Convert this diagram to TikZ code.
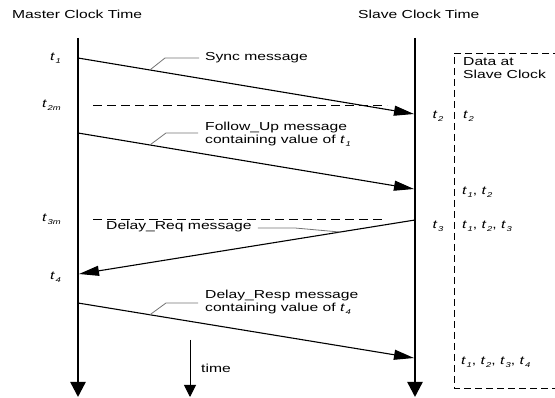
\documentclass[tikz,border=0pt]{standalone}
\usepackage{fontspec}
\setmainfont{Liberation Sans}[FakeStretch=1.35]
\usetikzlibrary{arrows.meta,calc}

% italic time stamp with a small italic index
\newcommand\tv[1]{\textit{t}\kern0.6pt\raisebox{-0.45ex}{\fontsize{7}{7}\selectfont\textit{#1}}}

\begin{document}
\begin{tikzpicture}[x=1pt,y=-1pt,
  txt/.style={font=\fontsize{11.6}{13}\selectfont, inner sep=0pt, align=left},
  timeline/.style={line width=2.4pt, -{Triangle[length=15pt,width=15pt]}},
  msg/.style={line width=1.1pt, -{Triangle[length=20pt,width=10pt]}},
  leader/.style={black!55, line width=0.8pt},
  dashline/.style={dash pattern=on 9pt off 5pt, line width=0.9pt},
  boxline/.style={dash pattern=on 7pt off 4pt, line width=0.9pt},
  tickarrow/.style={line width=1pt, -{Triangle[length=12pt,width=12pt]}}]
\useasboundingbox (0,0) rectangle (555,398);
\clip (0,0) rectangle (555,398);

% column titles
\node[txt, anchor=west] (mtitle) at (12,14) {Master Clock Time};
\node[txt, anchor=west] (stitle) at (358,14) {Slave Clock Time};

% time lines of the two clocks
\coordinate (mtop) at (78,38);  \coordinate (mbot) at (78,397);
\coordinate (stop) at (415,38); \coordinate (sbot) at (415,397);
\draw[timeline] (mtop) -- (mbot);
\draw[timeline] (stop) -- (sbot);

% message end points
\coordinate (m1) at (78,58);   \coordinate (s2) at (414,114);
\coordinate (m2) at (78,133);  \coordinate (s2b) at (414,189);
\coordinate (s3) at (415,220); \coordinate (m4) at (79,274);
\coordinate (m5) at (78,303);  \coordinate (s5) at (414,358);

% time stamps on the master side
\node[txt, anchor=east] (lt1) at (61,58) {\tv{1}};
\node[txt, anchor=east] (lt2m) at (61,105) {\tv{2m}};
\node[txt, anchor=east] (lt3m) at (61,219) {\tv{3m}};
\node[txt, anchor=east] (lt4) at (61,277) {\tv{4}};

% time stamps on the slave side
\node[txt] (lt2) at (438,116) {\tv{2}};
\node[txt] (lt3) at (438,226) {\tv{3}};

% reference levels of the master
\coordinate (d2a) at (93,105);  \coordinate (d2b) at (387,105);
\coordinate (d3a) at (93,219);  \coordinate (d3b) at (385,219);
\draw[dashline] (d2a) -- (d2b);
\draw[dashline] (d3a) -- (d3b);

% messages
\draw[msg] (m1) -- (s2);
\draw[msg] (m2) -- (s2b);
\draw[msg] (s3) -- (m4);
\draw[msg] (m5) -- (s5);

% message labels with leaders
\node[txt, anchor=west] (lsync) at (205,58) {Sync message};
\draw[leader] ($(m1)!0.214!(s2)$) -- (165,58) -- (lsync.west -| 199,0);

\node[txt, anchor=west] (lfup) at (205,134) {Follow\_Up message\\containing value of \tv{1}};
\draw[leader] ($(m2)!0.214!(s2b)$) -- (166,133) -- (198,133);

\node[txt, anchor=west] (ldreq) at (106,227) {Delay\_Req message};
\draw[leader] (ldreq.east) ++(6,1) -- (295,228) -- ($(s3)!0.223!(m4)$);

\node[txt, anchor=west] (ldresp) at (205,302) {Delay\_Resp message\\containing value of \tv{4}};
\draw[leader] ($(m5)!0.214!(s5)$) -- (166,303) -- (198,303);

% direction of time
\coordinate (ta) at (190,340); \coordinate (tb) at (190,397);
\draw[tickarrow] (ta) -- (tb);
\node[txt, anchor=west] (ltime) at (201,368) {time};

% data known at the slave
\coordinate (bx1) at (560,53); \coordinate (bx2) at (454,53);
\coordinate (bx3) at (454,388); \coordinate (bx4) at (560,388);
\draw[boxline] (bx1) -- (bx2) -- (bx3) -- (bx4);
\node[txt, anchor=north west] (ldata) at (463,57) {Data at\\Slave Clock};
\node[txt, anchor=west] (dd1) at (463,116) {\tv{2}};
\node[txt, anchor=west] (dd2) at (462,192) {\tv{1}, \tv{2}};
\node[txt, anchor=west] (dd3) at (462,226) {\tv{1}, \tv{2}, \tv{3}};
\node[txt, anchor=west] (dd4) at (461,362) {\tv{1}, \tv{2}, \tv{3}, \tv{4}};
\end{tikzpicture}
\end{document}
